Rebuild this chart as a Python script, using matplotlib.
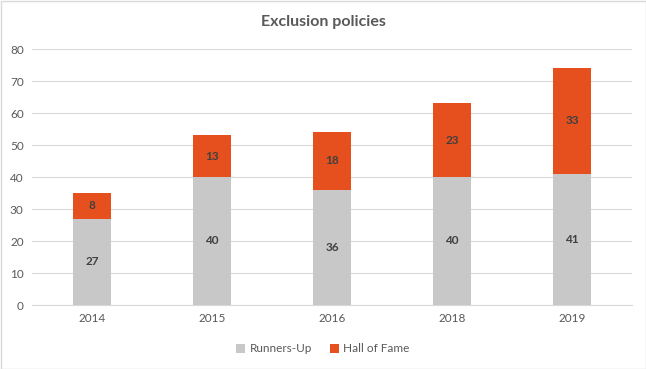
import matplotlib.pyplot as plt
from matplotlib.patches import Rectangle

years = ["2014", "2015", "2016", "2018", "2019"]
runners_up = [27, 40, 36, 40, 41]
hall_of_fame = [8, 13, 18, 23, 33]

GRAY = "#C8C8C8"
ORANGE = "#E5501E"
TEXT = "#595959"

plt.rcParams["font.family"] = ["Lato", "DejaVu Sans"]

fig = plt.figure(figsize=(6.46, 3.69), dpi=100)
ax = fig.add_axes([32 / 646, 1 - 305 / 369, 600 / 646, 256 / 369])

x = range(len(years))
ax.bar(x, runners_up, width=0.32, color=GRAY, label="Runners-Up", zorder=2)
ax.bar(x, hall_of_fame, width=0.32, bottom=runners_up, color=ORANGE,
       label="Hall of Fame", zorder=2)

for i, (r, h) in enumerate(zip(runners_up, hall_of_fame)):
    ax.text(i, r / 2, str(r), ha="center", va="center", fontsize=8.5,
            fontweight="bold", color="#404040")
    ax.text(i, r + h / 2, str(h), ha="center", va="center", fontsize=8.5,
            fontweight="bold", color="#404040")

ax.set_xlim(-0.5, len(years) - 0.5)
ax.set_ylim(0, 80)
ax.set_yticks(range(0, 81, 10))
ax.set_xticks(list(x))
ax.set_xticklabels(years)
ax.yaxis.grid(True, color="#D9D9D9", linewidth=0.8, zorder=0)
ax.tick_params(length=0, labelsize=8.5, colors=TEXT, pad=6)
for s in ["top", "right", "left"]:
    ax.spines[s].set_visible(False)
ax.spines["bottom"].set_color("#D9D9D9")

fig.text(0.5, 1 - 22 / 369, "Exclusion policies", ha="center", va="center",
         fontsize=11.5, fontweight="bold", color=TEXT)

fig.legend(loc="center", bbox_to_anchor=(0.5, 1 - 349 / 369), ncol=2,
           frameon=False, fontsize=8.5, handlelength=0.75, handleheight=0.75,
           columnspacing=1.5, handletextpad=0.4, labelcolor=TEXT)

fig.patches.append(Rectangle((0.5 / 646, 0.5 / 369), 645 / 646, 368 / 369,
                             transform=fig.transFigure, fill=False,
                             edgecolor="#D9D9D9", linewidth=1))

fig.savefig("out.png", dpi=100)
